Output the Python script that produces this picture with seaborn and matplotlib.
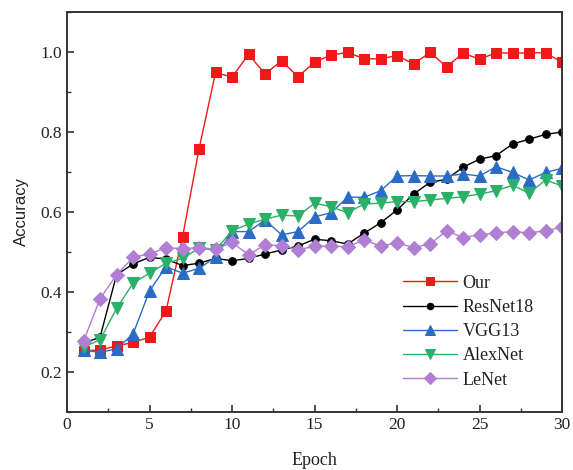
import matplotlib
matplotlib.use("Agg")
import matplotlib.pyplot as plt
import seaborn as sns
import pandas as pd
from matplotlib.ticker import MultipleLocator

epochs = list(range(1, 31))
our = [0.253, 0.255, 0.265, 0.274, 0.287, 0.353, 0.538, 0.758, 0.949, 0.937,
       0.994, 0.945, 0.978, 0.938, 0.975, 0.992, 0.999, 0.983, 0.983, 0.991,
       0.970, 0.999, 0.963, 0.997, 0.982, 0.998, 0.997, 0.998, 0.998, 0.974]
resnet18 = [0.272, 0.287, 0.443, 0.470, 0.487, 0.482, 0.466, 0.472, 0.484, 0.478,
            0.484, 0.495, 0.505, 0.515, 0.532, 0.528, 0.520, 0.547, 0.573, 0.605,
            0.645, 0.674, 0.682, 0.712, 0.732, 0.741, 0.770, 0.782, 0.794, 0.800]
vgg13 = [0.255, 0.249, 0.258, 0.295, 0.403, 0.463, 0.447, 0.459, 0.487, 0.551,
         0.551, 0.580, 0.543, 0.551, 0.588, 0.598, 0.637, 0.637, 0.653, 0.690,
         0.691, 0.690, 0.690, 0.695, 0.690, 0.713, 0.699, 0.680, 0.699, 0.709]
alexnet = [0.263, 0.280, 0.359, 0.422, 0.447, 0.472, 0.484, 0.509, 0.505, 0.553,
           0.570, 0.582, 0.592, 0.590, 0.622, 0.613, 0.598, 0.620, 0.622, 0.626,
           0.626, 0.630, 0.634, 0.638, 0.645, 0.653, 0.667, 0.647, 0.680, 0.665]
lenet = [0.277, 0.383, 0.443, 0.487, 0.495, 0.511, 0.508, 0.511, 0.507, 0.524,
         0.493, 0.518, 0.516, 0.506, 0.514, 0.515, 0.513, 0.530, 0.515, 0.523,
         0.511, 0.520, 0.553, 0.536, 0.543, 0.548, 0.551, 0.548, 0.553, 0.562]

names = ["Our", "ResNet18", "VGG13", "AlexNet", "LeNet"]
series = [our, resnet18, vgg13, alexnet, lenet]
colors = ["#f01818", "#000000", "#2a6cc4", "#2ab068", "#b07ed2"]
markers = ["s", "o", "^", "v", "D"]
msizes = [7, 5.5, 8, 8, 7]

sns.set_theme(style="ticks")
plt.rcParams["font.family"] = ["Liberation Serif", "DejaVu Serif"]

fig = plt.figure(figsize=(5.73, 4.70), dpi=100)
ax = fig.add_axes([0.117, 0.1234, 0.864, 0.8511])

for name, vals, c, m, ms in zip(names, series, colors, markers, msizes):
    df = pd.DataFrame({"Epoch": epochs, "Accuracy": vals})
    sns.lineplot(data=df, x="Epoch", y="Accuracy", ax=ax, color=c, marker=m,
                 markersize=ms, markeredgecolor=c, linewidth=1.0, label=name)

ax.set_xlim(0, 30)
ax.set_ylim(0.1, 1.1)
ax.xaxis.set_major_locator(MultipleLocator(5))
ax.xaxis.set_minor_locator(MultipleLocator(2.5))
ax.yaxis.set_major_locator(MultipleLocator(0.2))
ax.yaxis.set_minor_locator(MultipleLocator(0.1))
ax.set_yticks([0.2, 0.4, 0.6, 0.8, 1.0])
ax.set_yticklabels(["0.2", "0.4", "0.6", "0.8", "1.0"])
ax.tick_params(axis="both", which="major", direction="in", length=5, width=1.2,
               labelsize=12.5, colors="#333333", labelcolor="#222222")
ax.tick_params(axis="both", which="minor", direction="in", length=3, width=1.0,
               colors="#333333")
for s in ax.spines.values():
    s.set_linewidth(1.4)
    s.set_color("#333333")

ax.set_xlabel("Epoch", fontsize=13, color="#222222", labelpad=14)
ax.set_ylabel("Accuracy", fontsize=12, color="#222222", family=["Liberation Sans"], labelpad=8)

leg = ax.legend(loc="lower right", bbox_to_anchor=(0.975, 0.018), frameon=False,
                fontsize=13, handlelength=3.0, handletextpad=0.3,
                labelspacing=0.4, markerscale=0.85)
for t in leg.get_texts():
    t.set_color("#222222")

fig.savefig("out.png", dpi=100)
